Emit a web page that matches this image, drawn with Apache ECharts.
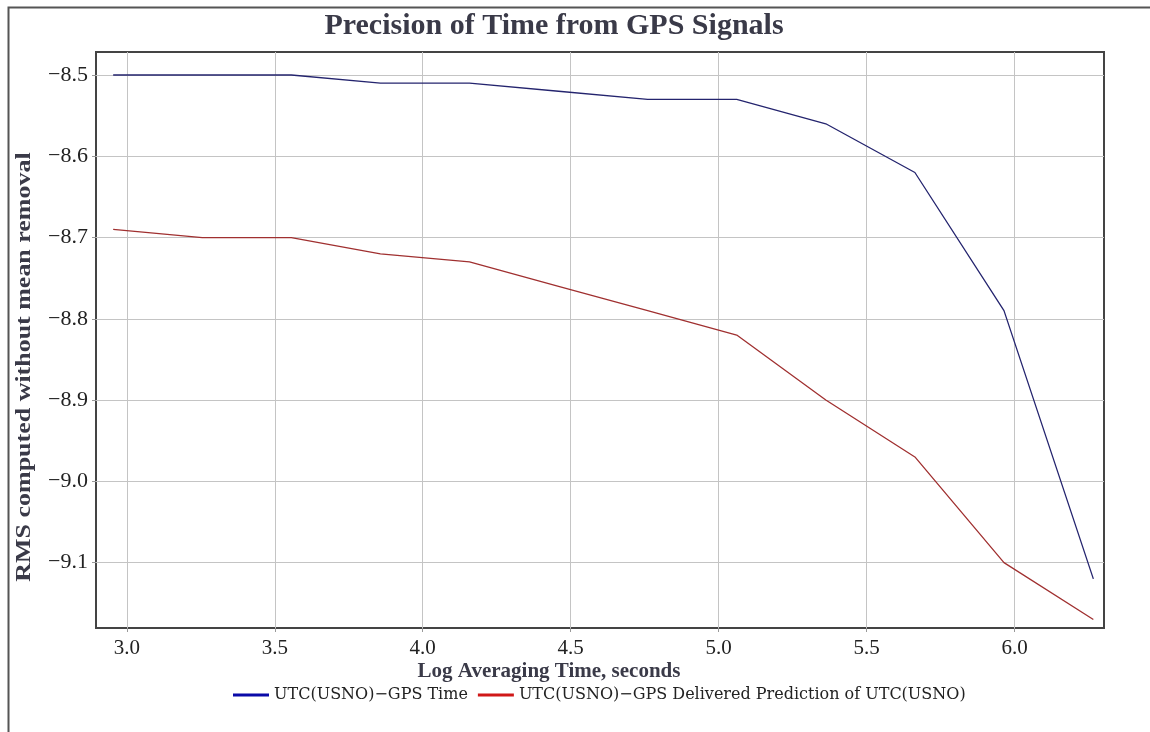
<!DOCTYPE html>
<html lang="en">
<head>
    <meta charset="UTF-8">
    <title>Precision of Time from GPS Signals</title>
    <script src="https://cdn.jsdelivr.net/npm/echarts@6/dist/echarts.min.js"></script>
    <style>
        html, body { margin: 0; padding: 0; background: #fff; }
    </style>
</head>
<body>
<div id="main" style="width:1150px;height:732px;"></div>
<script type="text/javascript">
    // log10 of averaging time (900 s doubling up to ~1.8e6 s)
    var logTimes = [2.954, 3.255, 3.556, 3.857, 4.158, 4.459, 4.760, 5.061, 5.362, 5.663, 5.964, 6.266];
    var gpsTime = [-8.50, -8.50, -8.50, -8.51, -8.51, -8.52, -8.53, -8.53, -8.56, -8.62, -8.79, -9.12];
    var gpsPrediction = [-8.69, -8.70, -8.70, -8.72, -8.73, -8.76, -8.79, -8.82, -8.90, -8.97, -9.10, -9.17];
    var xTicks = [3.0, 3.5, 4.0, 4.5, 5.0, 5.5, 6.0];
    var yTicks = [-9.1, -9.0, -8.9, -8.8, -8.7, -8.6, -8.5];
    var seriesNames = ['UTC(USNO)\u2212GPS Time', 'UTC(USNO)\u2212GPS Delivered Prediction of UTC(USNO)'];

    function pairs(xs, ys) {
        return xs.map(function (x, i) { return [x, ys[i]]; });
    }

    var myChart = echarts.init(document.getElementById('main'));
    var serif = 'Liberation Serif';

    var option = {
        backgroundColor: '#ffffff',
        animation: false,
        graphic: [
            {
                type: 'rect', left: 6, top: 5, silent: true,
                shape: { width: 1200, height: 800 },
                style: { fill: 'none', stroke: '#555', lineWidth: 2 }
            },
            {
                type: 'text', x: 554, y: 26,
                style: {
                    text: 'Precision of Time from GPS Signals',
                    font: 'bold 30px "Liberation Serif"', fill: '#3a3a48',
                    textAlign: 'center', textVerticalAlign: 'middle'
                }
            },
            {
                type: 'text', x: 549, y: 672,
                style: {
                    text: 'Log Averaging Time, seconds',
                    font: 'bold 21px "Liberation Serif"', fill: '#3a3a48',
                    textAlign: 'center', textVerticalAlign: 'middle'
                }
            },
            {
                type: 'text', x: 24, y: 367, rotation: Math.PI / 2, scaleX: 1.18,
                style: {
                    text: 'RMS computed without mean removal',
                    font: 'bold 22px "Liberation Serif"', fill: '#3a3a48',
                    textAlign: 'center', textVerticalAlign: 'middle'
                }
            }
        ],
        legend: {
            bottom: 24,
            left: 228,
            icon: 'rect',
            itemWidth: 36,
            itemHeight: 3,
            itemGap: 10,
            textStyle: { fontFamily: 'DejaVu Serif', fontSize: 16, color: '#222' },
            data: seriesNames
        },
        grid: {
            left: 96, top: 52, right: 46, bottom: 104,
            show: true, borderColor: '#444', borderWidth: 2,
            containLabel: false
        },
        xAxis: {
            type: 'value',
            min: 2.896, max: 6.302,
            axisLine: { show: false },
            axisTick: { show: true, length: 4, lineStyle: { color: '#999' }, customValues: xTicks },
            axisLabel: {
                customValues: xTicks, margin: 10,
                fontFamily: serif, fontSize: 21, color: '#222',
                formatter: function (v) { return v.toFixed(1); }
            },
            splitLine: { show: true, lineStyle: { color: '#c4c4c4', width: 1 } }
        },
        yAxis: {
            type: 'value',
            min: -9.1805, max: -8.4717,
            axisLine: { show: false },
            axisTick: { show: true, length: 4, lineStyle: { color: '#999' }, customValues: yTicks },
            axisLabel: {
                customValues: yTicks, margin: 8,
                fontFamily: serif, fontSize: 22, color: '#222',
                formatter: function (v) { return v.toFixed(1).replace('-', '\u2212'); }
            },
            splitLine: { show: true, lineStyle: { color: '#c4c4c4', width: 1 } }
        },
        series: [
            {
                name: seriesNames[0],
                type: 'line',
                data: pairs(logTimes, gpsTime),
                showSymbol: false,
                itemStyle: { color: '#0a0aa8' },
                lineStyle: { color: '#24246e', width: 1.3 }
            },
            {
                name: seriesNames[1],
                type: 'line',
                data: pairs(logTimes, gpsPrediction),
                showSymbol: false,
                itemStyle: { color: '#d01818' },
                lineStyle: { color: '#a03030', width: 1.3 }
            }
        ]
    };
    myChart.setOption(option);
</script>
</body>
</html>
